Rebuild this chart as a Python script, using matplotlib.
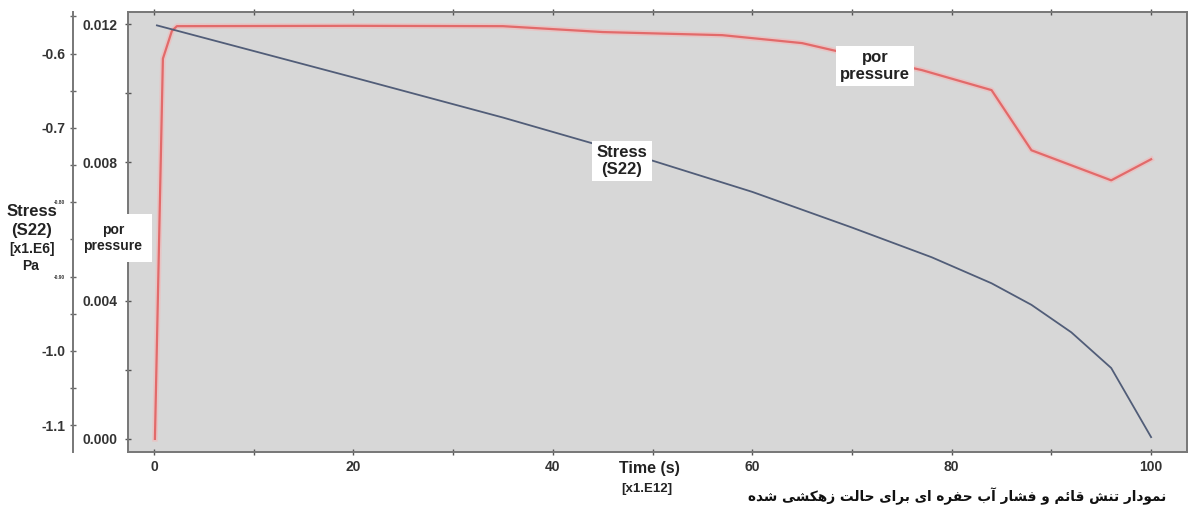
import matplotlib
matplotlib.use('Agg')
import matplotlib.pyplot as plt
import matplotlib.ticker as ticker

# values
time_pp = [0.1, 0.9, 1.8, 2.3, 20, 35, 45, 57, 65, 68, 77, 84, 88, 96, 100]
pore_pressure = [0.0, 0.0110, 0.0118, 0.01194, 0.01195, 0.01194, 0.01177, 0.01168,
                 0.01145, 0.01125, 0.01067, 0.01009, 0.00835, 0.00748, 0.00809]

time_s22 = [0.3, 20, 35, 50, 60, 70, 78, 84, 88, 92, 96, 100]
stress_s22 = [-0.562, -0.632, -0.686, -0.744, -0.786, -0.834, -0.874, -0.909,
              -0.938, -0.975, -1.023, -1.116]

pp_ticks = [0.0, 0.004, 0.008, 0.012]
pp_labels = ['0.000', '0.004', '0.008', '0.012']
s_ticks = [-1.1, -1.0, -0.9, -0.8, -0.7, -0.6]
s_labels = ['-1.1', '-1.0', '-0.90', '-0.80', '-0.7', '-0.6']
x_ticks = [0, 20, 40, 60, 80, 100]

caption = 'نمودار تنش قائم و فشار آب حفره ای برای حالت زهکشی شده'

# matplotlib has no arabic shaping, do it by hand with presentation forms
FORMS = {
    'ن': ('\uFEE5', '\uFEE6', '\uFEE7', '\uFEE8'),
    'م': ('\uFEE1', '\uFEE2', '\uFEE3', '\uFEE4'),
    'ت': ('\uFE95', '\uFE96', '\uFE97', '\uFE98'),
    'ش': ('\uFEB5', '\uFEB6', '\uFEB7', '\uFEB8'),
    'ق': ('\uFED5', '\uFED6', '\uFED7', '\uFED8'),
    'ئ': ('\uFE89', '\uFE8A', '\uFE8B', '\uFE8C'),
    'ف': ('\uFED1', '\uFED2', '\uFED3', '\uFED4'),
    'ب': ('\uFE8F', '\uFE90', '\uFE91', '\uFE92'),
    'ح': ('\uFEA1', '\uFEA2', '\uFEA3', '\uFEA4'),
    'ه': ('\uFEE9', '\uFEEA', '\uFEEB', '\uFEEC'),
    'ی': ('\uFBFC', '\uFBFD', '\uFBFE', '\uFBFF'),
    'ل': ('\uFEDD', '\uFEDE', '\uFEDF', '\uFEE0'),
    'ک': ('\uFB8E', '\uFB8F', '\uFB90', '\uFB91'),
    'و': ('\uFEED', '\uFEEE'),
    'د': ('\uFEA9', '\uFEAA'),
    'ا': ('\uFE8D', '\uFE8E'),
    'ر': ('\uFEAD', '\uFEAE'),
    'آ': ('\uFE81', '\uFE82'),
    'ز': ('\uFEAF', '\uFEB0'),
}


def shape_fa(s):
    out = []
    for i, c in enumerate(s):
        if c not in FORMS:
            out.append(c)
            continue
        f = FORMS[c]
        prev = s[i - 1] if i > 0 else ' '
        nxt = s[i + 1] if i + 1 < len(s) else ' '
        join_prev = prev in FORMS and len(FORMS[prev]) == 4
        join_next = len(f) == 4 and nxt in FORMS
        if join_prev and join_next:
            out.append(f[3])
        elif join_prev:
            out.append(f[1])
        elif join_next:
            out.append(f[2])
        else:
            out.append(f[0])
    return ''.join(out)[::-1]


W, H = 1193, 515
txt_col = '#333333'
plt.rcParams['font.family'] = ['Liberation Sans', 'DejaVu Sans']

fig = plt.figure(figsize=(W / 100, H / 100), dpi=100)
ax = fig.add_axes([128 / W, 1 - 452 / H, (1187 - 128) / W, (452 - 12) / H])
ax.set_facecolor('#d7d7d7')

ax.plot(time_pp, pore_pressure, color='#f2b8b8', lw=4, alpha=0.6, zorder=2)
ax.plot(time_pp, pore_pressure, color='#e26a6a', lw=1.6, zorder=3)
ax.set_xlim(-2.6, 103.6)
ax.set_ylim(-0.00038, 0.01235)

ax.set_xticks(x_ticks)
ax.xaxis.set_minor_locator(ticker.MultipleLocator(10))
ax.set_yticks(pp_ticks, pp_labels)
ax.yaxis.set_minor_locator(ticker.MultipleLocator(0.002))
ax.tick_params(axis='x', which='both', direction='inout', length=5, width=1,
               color='#555555', top=True, labelsize=10, labelcolor=txt_col, pad=3)
ax.tick_params(axis='y', which='both', direction='inout', length=5, width=1,
               color='#555555', right=True, labelsize=10, labelcolor=txt_col, pad=5)
for lab in ax.get_xticklabels() + ax.get_yticklabels():
    lab.set_fontweight('bold')
for sp in ax.spines.values():
    sp.set_color('#777777')
    sp.set_linewidth(1.4)

# stress on an outer left axis
ax2 = ax.twinx()
ax2.plot(time_s22, stress_s22, color='#515d78', lw=1.3, zorder=3)
ax2.set_ylim(-1.136, -0.544)
ax2.yaxis.set_ticks_position('left')
ax2.spines['left'].set_position(('outward', 39.6))
ax2.spines['left'].set_visible(True)
ax2.spines['left'].set_color('#777777')
ax2.spines['left'].set_linewidth(1.4)
for side in ['right', 'top', 'bottom']:
    ax2.spines[side].set_visible(False)
ax2.set_yticks(s_ticks, s_labels)
ax2.yaxis.set_minor_locator(ticker.MultipleLocator(0.05))
ax2.tick_params(axis='y', which='both', direction='inout', length=5, width=1,
                color='#666666', labelsize=10, labelcolor=txt_col, pad=3)
for lab in ax2.get_yticklabels():
    lab.set_fontweight('bold')
    if lab.get_text() in ('-0.80', '-0.90'):
        lab.set_fontsize(3.5)

# labels and call-outs
box = dict(facecolor='white', edgecolor='none', pad=3)
dark = '#222222'
fig.text(32 / W, 1 - 211 / H, 'Stress', ha='center', va='center',
         fontsize=12, fontweight='bold', color=dark)
fig.text(32 / W, 1 - 230 / H, '(S22)', ha='center', va='center',
         fontsize=12, fontweight='bold', color=dark)
fig.text(32 / W, 1 - 249 / H, '[x1.E6]', ha='center', va='center',
         fontsize=10, fontweight='bold', color=dark)
fig.text(31 / W, 1 - 266 / H, 'Pa', ha='center', va='center',
         fontsize=10, fontweight='bold', color=dark)
fig.text(113 / W, 1 - 238 / H, 'por\npressure', ha='center', va='center',
         fontsize=10, fontweight='bold', color=dark, linespacing=1.1,
         bbox=dict(facecolor='white', edgecolor='none', pad=7))
fig.text(622 / W, 1 - 161 / H, 'Stress\n(S22)', ha='center', va='center',
         fontsize=12, fontweight='bold', color=dark, linespacing=1.15, bbox=box)
fig.text(875 / W, 1 - 66 / H, 'por\npressure', ha='center', va='center',
         fontsize=12, fontweight='bold', color=dark, linespacing=1.1, bbox=box)
fig.text(619 / W, 1 - 468 / H, 'Time (s)', ha='left', va='center',
         fontsize=11.5, fontweight='bold', color=dark)
fig.text(621 / W, 1 - 489 / H, '[x1.E12]', ha='left', va='center',
         fontsize=9.5, fontweight='bold', color=dark)
fig.text(1166 / W, 1 - 496 / H, shape_fa(caption), ha='right', va='center',
         fontsize=9.8, fontweight='bold', color='#111111', family='DejaVu Sans')

fig.savefig('out.png', dpi=100)
